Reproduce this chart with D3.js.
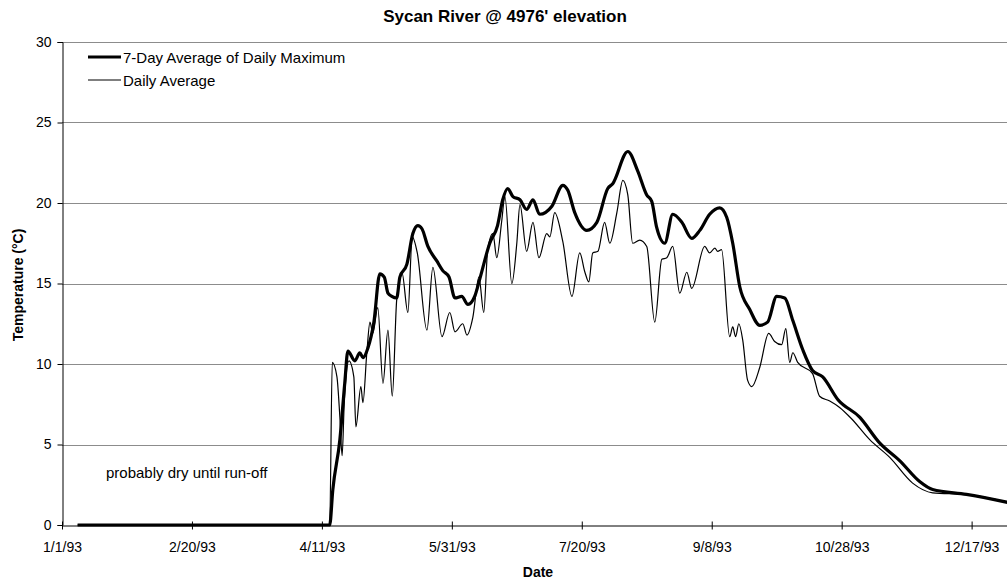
<!DOCTYPE html>
<html>
<head>
<meta charset="utf-8">
<script src="https://cdn.jsdelivr.net/npm/d3@7"></script>
<style>
  html, body { margin: 0; padding: 0; background: #fff; }
  svg text { font-family: "Liberation Sans", Arial, sans-serif; fill: #000; }
</style>
</head>
<body>
<svg id="chart" width="1007" height="581"></svg>
<script>
// ---- Data (day offsets from 1/1/93, temperatures in °C) ----
const chartTitle = "Sycan River @ 4976' elevation";
const seriesNames = ["7-Day Average of Daily Maximum", "Daily Average"];
const yTickValues = [0, 5, 10, 15, 20, 25, 30];
const xTickDays = [0, 50, 100, 150, 200, 250, 300, 350];
const xTickLabels = ["1/1/93", "2/20/93", "4/11/93", "5/31/93", "7/20/93", "9/8/93", "10/28/93", "12/17/93"];
const annotation = "probably dry until run-off";

// 7-Day Average of Daily Maximum
const maxDays = [6, 103, 104.2, 106.9, 108.8, 110, 112.7, 114.6, 115.8, 117.7, 120, 122.3, 124, 125.4, 126.9, 128.8, 130, 132.7, 135, 136.9, 138.5, 140.8, 144.2, 146.5, 148.9, 151.2, 153.8, 156.2, 158.8, 160.8, 164.6, 167.6, 169.6, 171.5, 173.5, 176.2, 178.8, 181.2, 183.8, 188.5, 192.7, 194.6, 197.3, 201.9, 205.8, 210, 211.9, 217.7, 221.5, 225, 226.9, 228.8, 231.9, 235, 238.5, 242.3, 245.4, 249.2, 253.1, 255.8, 258.1, 260.8, 264.6, 268.5, 271.5, 275, 278.1, 281.2, 285, 288.8, 292.7, 298.5, 306.9, 314.6, 322.3, 330, 335, 348, 364];
const maxVals = [0, 0, 2.2, 5.3, 8.8, 10.8, 10.2, 10.7, 10.4, 11.0, 12.6, 15.6, 15.4, 14.4, 14.2, 14.1, 15.4, 16.2, 18.1, 18.6, 18.4, 17.3, 16.4, 15.8, 15.4, 14.1, 14.2, 13.7, 14.2, 15.3, 17.5, 18.6, 20.2, 20.9, 20.4, 20.2, 19.6, 20.2, 19.3, 19.8, 21.1, 20.8, 19.4, 18.3, 18.8, 20.9, 21.2, 23.2, 22.0, 20.5, 20.1, 18.5, 17.5, 19.3, 18.8, 17.8, 18.3, 19.3, 19.7, 19.1, 17.5, 14.8, 13.4, 12.4, 12.6, 14.2, 14.1, 12.7, 10.9, 9.6, 9.2, 7.8, 6.7, 5.1, 4.0, 2.7, 2.2, 1.9, 1.4];

// Daily Average
const avgDays = [6, 103, 104, 105.8, 106.9, 107.8, 108.6, 110.4, 112.3, 113.1, 115, 115.8, 117.3, 118.5, 119.6, 121.5, 123.5, 125.4, 127.1, 128.8, 130.8, 133.1, 134.8, 136.7, 140.4, 142.7, 146.2, 149.2, 151.2, 154.2, 155.8, 158.1, 160.4, 162.3, 163.8, 165.8, 167.3, 169.2, 170.4, 173.1, 175, 176.2, 178.8, 181.2, 183.5, 186.5, 187.7, 189.6, 192.7, 196.2, 199.2, 201.2, 202.7, 204.2, 206.2, 208.8, 210.8, 213.5, 215.8, 217.7, 219.6, 222.3, 225, 228.1, 230.8, 232.7, 235, 237.7, 240.4, 242.3, 247.3, 249.2, 251.2, 252.3, 253.8, 256.9, 258.1, 259.2, 260.4, 261.9, 263.8, 265.4, 268.5, 271.9, 274.2, 276.9, 278.5, 280, 281.2, 283.1, 288.8, 291.5, 295.4, 299.2, 303.8, 310.8, 318.5, 327.3, 335, 348, 364];
const avgVals = [0, 0, 10.1, 9.2, 6.7, 4.3, 7.5, 10.2, 9.2, 6.1, 8.6, 7.6, 10.7, 12.6, 11.9, 13.5, 8.8, 12.1, 8.0, 14.0, 15.7, 13.2, 17.9, 16.9, 12.1, 16.0, 11.7, 13.2, 12.0, 12.5, 11.8, 12.9, 15.4, 13.2, 17.1, 18.1, 16.6, 18.9, 20.4, 15.0, 17.5, 19.9, 17.0, 18.8, 16.6, 18.1, 17.9, 19.4, 17.6, 14.2, 16.9, 15.7, 15.1, 16.9, 17.0, 18.8, 17.5, 19.4, 21.4, 20.5, 17.5, 17.7, 17.3, 12.6, 16.5, 16.6, 17.3, 14.4, 15.7, 14.7, 17.3, 16.9, 17.2, 17.0, 17.1, 11.7, 12.3, 11.7, 12.5, 11.5, 9.0, 8.6, 9.8, 11.9, 11.4, 11.2, 12.2, 10.1, 10.7, 10.1, 9.4, 8.0, 7.7, 7.3, 6.6, 5.3, 4.2, 2.6, 2.0, 1.9, 1.4];

// ---- Chart ----
const svg = d3.select("#chart");
const start = new Date(1993, 0, 1);
const dayToDate = d => d3.timeHour.offset(start, Math.round(d * 24));
const plotL = 62, plotR = 1008, plotT = 42, plotB = 525;

const x = d3.scaleTime().domain([start, new Date(1993, 11, 31)]).range([plotL, plotR]);
const y = d3.scaleLinear().domain([0, 30]).range([plotB, plotT]);

// gridlines
svg.append("g").selectAll("line").data(yTickValues.filter(v => v > 0)).join("line")
  .attr("x1", plotL).attr("x2", plotR)
  .attr("y1", d => Math.round(y(d)) + 0.5).attr("y2", d => Math.round(y(d)) + 0.5)
  .attr("stroke", "#8c8c8c").attr("stroke-width", 1);

// y axis
const yAxis = d3.axisLeft(y).tickValues(yTickValues).tickSize(5).tickPadding(6);
const gy = svg.append("g").attr("transform", `translate(${plotL + 0.5},0)`).call(yAxis);
gy.select(".domain").attr("stroke", "#000");
gy.selectAll(".tick line").attr("stroke", "#000");
gy.selectAll("text").style("font-size", "14px");

// x axis
const xTickDates = xTickDays.map(dayToDate);
const xAxis = d3.axisBottom(x).tickValues(xTickDates)
  .tickFormat((d, i) => xTickLabels[i]).tickSizeInner(4).tickSizeOuter(0).tickPadding(13);
const gx = svg.append("g").attr("transform", `translate(0,${plotB + 0.5})`).call(xAxis);
gx.select(".domain").attr("stroke", "#000");
gx.selectAll(".tick line").attr("stroke", "#000").attr("y1", -4).attr("y2", 4);
gx.selectAll("text").style("font-size", "14px");

// lines
const line = d3.line().x(d => x(dayToDate(d[0]))).y(d => y(d[1])).curve(d3.curveMonotoneX);
const avgData = avgDays.map((d, i) => [d, avgVals[i]]);
const maxData = maxDays.map((d, i) => [d, maxVals[i]]);

svg.append("path").datum(avgData).attr("d", line)
  .attr("fill", "none").attr("stroke", "#000").attr("stroke-width", 1.2);
svg.append("path").datum(maxData).attr("d", line)
  .attr("fill", "none").attr("stroke", "#000").attr("stroke-width", 3.2);

// title
svg.append("text").attr("x", 505).attr("y", 22).attr("text-anchor", "middle")
  .style("font-size", "17px").style("font-weight", "bold").text(chartTitle);

// axis titles
svg.append("text").attr("x", 538).attr("y", 577).attr("text-anchor", "middle")
  .style("font-size", "14px").style("font-weight", "bold").text("Date");
svg.append("text").attr("transform", `translate(23,285) rotate(-90)`)
  .attr("text-anchor", "middle").style("font-size", "14px").style("font-weight", "bold")
  .text("Temperature (°C)");

// legend
const legend = svg.append("g");
seriesNames.forEach((name, i) => {
  const ly = 57 + i * 23;
  legend.append("line").attr("x1", 88).attr("x2", 121).attr("y1", ly).attr("y2", ly)
    .attr("stroke", "#000").attr("stroke-width", i === 0 ? 3.2 : 1.2);
  legend.append("text").attr("x", 123).attr("y", ly + 6).style("font-size", "15px").text(name);
});

// annotation
svg.append("text").attr("x", 106).attr("y", 478).style("font-size", "15px").text(annotation);
</script>
</body>
</html>
